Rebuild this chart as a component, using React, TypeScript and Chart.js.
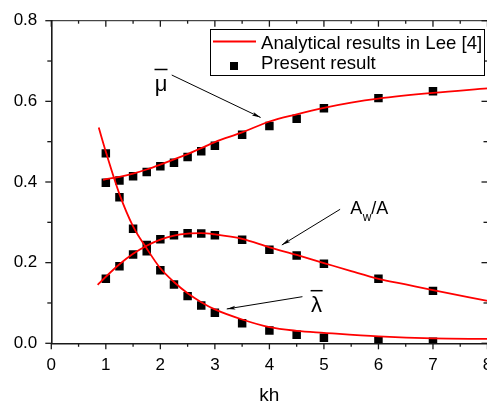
import { useEffect, useRef } from "react";
import { Chart, registerables } from "chart.js";

Chart.register(...registerables);

// ---- data ----
const khPresent = [1, 1.25, 1.5, 1.75, 2, 2.25, 2.5, 2.75, 3, 3.5, 4, 4.5, 5, 6, 7];
const muPresent = [0.398, 0.404, 0.414, 0.425, 0.439, 0.448, 0.462, 0.476, 0.49, 0.517, 0.539, 0.557, 0.583, 0.608, 0.625];
const awPresent = [0.16, 0.191, 0.22, 0.244, 0.258, 0.268, 0.273, 0.272, 0.268, 0.257, 0.232, 0.218, 0.197, 0.16, 0.13];
const lambdaPresent = [0.471, 0.362, 0.284, 0.228, 0.181, 0.146, 0.117, 0.094, 0.076, 0.05, 0.032, 0.021, 0.014, 0.007, 0.004];

const khMuLine = [0.95, 1, 1.25, 1.5, 1.75, 2, 2.25, 2.5, 2.75, 3, 3.5, 4, 4.5, 5, 5.5, 6, 7, 8];
const muLine = [0.405, 0.407, 0.413, 0.421, 0.431, 0.443, 0.456, 0.469, 0.484, 0.499, 0.523, 0.55, 0.568, 0.584, 0.597, 0.607, 0.621, 0.632];

const khAwLine = [0.85, 1, 1.25, 1.5, 1.75, 2, 2.25, 2.5, 2.75, 3, 3.5, 4, 4.5, 5, 5.5, 6, 6.5, 7, 8];
const awLine = [0.145, 0.165, 0.196, 0.222, 0.242, 0.257, 0.267, 0.272, 0.273, 0.27, 0.259, 0.238, 0.219, 0.199, 0.179, 0.16, 0.146, 0.132, 0.105];

const khLambdaLine = [0.87, 1, 1.25, 1.5, 1.75, 2, 2.25, 2.5, 2.75, 3, 3.5, 4, 4.5, 5, 6, 7, 8];
const lambdaLine = [0.535, 0.475, 0.37, 0.29, 0.235, 0.186, 0.152, 0.124, 0.102, 0.084, 0.059, 0.04, 0.031, 0.026, 0.017, 0.012, 0.011];

const xTicks = [0, 1, 2, 3, 4, 5, 6, 7, 8];
const yTicks = [0, 0.2, 0.4, 0.6, 0.8];
const legendLabels = ["Analytical results in Lee [4]", "Present result"];
const xTitle = "kh";

const FONT = "'Liberation Sans', Arial, Helvetica, sans-serif";
const W = 495;
const H = 405;
const RED = "#ff0000";
const AXIS = "#1a1a1a";

const pts = (xs: number[], ys: number[]) => xs.map((x, i) => ({ x, y: ys[i] }));

const decorPlugin = {
  id: "decor",
  afterDraw(chart: any) {
    const ctx: CanvasRenderingContext2D = chart.ctx;
    const xs = chart.scales.x;
    const ys = chart.scales.y;
    const { left, right, top, bottom } = chart.chartArea;
    const P = (x: number, y: number) => [xs.getPixelForValue(x), ys.getPixelForValue(y)];
    const line = (x1: number, y1: number, x2: number, y2: number) => {
      ctx.beginPath();
      ctx.moveTo(x1, y1);
      ctx.lineTo(x2, y2);
      ctx.stroke();
    };
    ctx.save();
    ctx.strokeStyle = AXIS;
    // top / right frame
    ctx.lineWidth = 1;
    line(left, top, right, top);
    line(right, top, right, bottom);
    // ticks
    ctx.lineWidth = 1.3;
    const xMin = xTicks[0], xMax = xTicks[xTicks.length - 1];
    for (let v = xMin; v <= xMax + 1e-9; v += 0.5) {
      const px = xs.getPixelForValue(v);
      const major = Math.abs(v - Math.round(v)) < 1e-9;
      const len = major ? 6 : 3.5;
      line(px, bottom, px, bottom + len);
      line(px, top, px, top + (major ? 6 : 3));
    }
    const yMax = yTicks[yTicks.length - 1];
    for (let v = 0; v <= yMax + 1e-9; v += 0.1) {
      const py = ys.getPixelForValue(v);
      const major = Math.abs(v / 0.2 - Math.round(v / 0.2)) < 1e-6;
      const len = major ? 6 : 4;
      line(left - len, py, left, py);
      line(right - len, py, right, py);
    }

    // legend box
    const bx = 210.5, by = 29.5, bw = 274, bh = 46;
    ctx.fillStyle = "#fff";
    ctx.fillRect(bx, by, bw, bh);
    ctx.lineWidth = 1;
    ctx.strokeStyle = "#000";
    ctx.strokeRect(bx, by, bw, bh);
    ctx.strokeStyle = RED;
    ctx.lineWidth = 2;
    line(bx + 2.5, by + 12, bx + 45.5, by + 12);
    ctx.fillStyle = "#000";
    ctx.fillRect(bx + 19.5, by + 32.5, 8, 8);
    ctx.font = `18.6px ${FONT}`;
    ctx.textAlign = "left";
    ctx.textBaseline = "alphabetic";
    ctx.fillText(legendLabels[0], bx + 50.5, by + 19.2);
    ctx.fillText(legendLabels[1], bx + 50.5, by + 39.5);

    // annotations
    ctx.strokeStyle = "#000";
    ctx.fillStyle = "#000";
    const arrow = (a: number[], b: number[]) => {
      const [x1, y1] = P(a[0], a[1]);
      const [x2, y2] = P(b[0], b[1]);
      ctx.lineWidth = 1;
      line(x1, y1, x2, y2);
      const ang = Math.atan2(y2 - y1, x2 - x1);
      const L = 9, s = 0.22;
      ctx.beginPath();
      ctx.moveTo(x2, y2);
      ctx.lineTo(x2 - L * Math.cos(ang - s), y2 - L * Math.sin(ang - s));
      ctx.lineTo(x2 - L * 0.75 * Math.cos(ang), y2 - L * 0.75 * Math.sin(ang));
      ctx.lineTo(x2 - L * Math.cos(ang + s), y2 - L * Math.sin(ang + s));
      ctx.closePath();
      ctx.fill();
    };
    // mu bar
    ctx.font = `22px ${FONT}`;
    ctx.textAlign = "center";
    let [tx, ty] = P(2.012, 0.6257);
    ctx.fillText("\u03bc", tx, ty);
    ctx.lineWidth = 1.5;
    line(tx - 6.5, ty - 21.5, tx + 6.5, ty - 21.5);
    arrow([2.209, 0.6653], [3.839, 0.56]);

    // lambda bar
    [tx, ty] = P(4.866, 0.0764);
    ctx.fillText("\u03bb", tx, ty);
    ctx.lineWidth = 1.5;
    line(tx - 6, ty - 21.8, tx + 6, ty - 21.8);
    arrow([4.606, 0.1156], [3.218, 0.0851]);

    // Aw/A
    ctx.textAlign = "left";
    [tx, ty] = P(5.481, 0.3206);
    ctx.font = `18px ${FONT}`;
    ctx.fillText("A", tx, ty);
    const w = ctx.measureText("A").width;
    ctx.font = `12px ${FONT}`;
    ctx.fillText("w", tx + w + 0.5, ty + 6.5);
    const w2 = ctx.measureText("w").width;
    ctx.font = `18px ${FONT}`;
    ctx.fillText("/A", tx + w + w2 + 0.5, ty);
    arrow([5.297, 0.3323], [4.228, 0.2438]);

    ctx.restore();
  },
};

export default function App() {
  const ref = useRef<HTMLCanvasElement>(null);
  useEffect(() => {
    const canvas = ref.current;
    if (!canvas) return;
    const lineDs = (data: any[]) => ({
      label: legendLabels[0],
      data,
      showLine: true,
      borderColor: RED,
      backgroundColor: RED,
      borderWidth: 1.8,
      pointRadius: 0,
      cubicInterpolationMode: "monotone" as const,
      fill: false,
    });
    const ptDs = (data: any[]) => ({
      label: legendLabels[1],
      data,
      showLine: false,
      pointStyle: "rect" as const,
      pointRadius: 6,
      pointHoverRadius: 6,
      backgroundColor: "#000",
      borderColor: "#000",
      borderWidth: 0,
    });
    const chart = new Chart(canvas, {
      type: "scatter",
      data: {
        datasets: [
          lineDs(pts(khMuLine, muLine)),
          lineDs(pts(khAwLine, awLine)),
          lineDs(pts(khLambdaLine, lambdaLine)),
          ptDs(pts(khPresent, muPresent)),
          ptDs(pts(khPresent, awPresent)),
          ptDs(pts(khPresent, lambdaPresent)),
        ],
      },
      options: {
        animation: false,
        responsive: false,
        devicePixelRatio: 1,
        layout: { padding: { top: 20.7, right: W - 487.5, bottom: 0, left: 0 } },
        plugins: { legend: { display: false }, tooltip: { enabled: false } },
        scales: {
          x: {
            type: "linear",
            min: xTicks[0],
            max: xTicks[xTicks.length - 1],
            afterBuildTicks: (s: any) => {
              s.ticks = xTicks.map((v) => ({ value: v }));
            },
            afterFit: (s: any) => {
              s.height = H - 343.3;
              s.paddingLeft = 0;
              s.paddingRight = 0;
            },
            ticks: {
              autoSkip: false,
              maxRotation: 0,
              padding: 12,
              color: "#000",
              font: { size: 17, family: FONT },
              callback: (v: any) => String(v),
            },
            grid: { display: false, drawTicks: false },
            border: { display: true, color: AXIS, width: 1.6 },
            title: {
              display: true,
              text: xTitle,
              color: "#000",
              font: { size: 19, family: FONT },
              padding: { top: 0, bottom: -2 },
            },
          },
          y: {
            type: "linear",
            min: yTicks[0],
            max: yTicks[yTicks.length - 1],
            afterBuildTicks: (s: any) => {
              s.ticks = yTicks.map((v) => ({ value: v }));
            },
            afterFit: (s: any) => {
              s.width = 51.3;
              s.paddingTop = 0;
              s.paddingBottom = 0;
            },
            ticks: {
              padding: 14,
              color: "#000",
              font: { size: 17, family: FONT },
              callback: (v: any) => Number(v).toFixed(1),
            },
            grid: { display: false, drawTicks: false },
            border: { display: true, color: AXIS, width: 1.6 },
          },
        },
      },
      plugins: [decorPlugin],
    });
    return () => chart.destroy();
  }, []);
  return (
    <div
      style={{
        position: "fixed",
        left: 0,
        top: 0,
        width: 487,
        height: H,
        overflow: "hidden",
        background: "#fff",
      }}
    >
      <canvas ref={ref} width={W} height={H} style={{ display: "block", width: W, height: H }} />
    </div>
  );
}
